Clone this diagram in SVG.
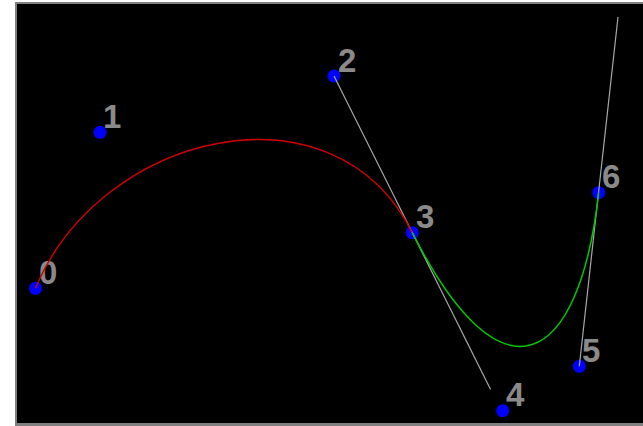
<svg xmlns="http://www.w3.org/2000/svg" width="643" height="426" viewBox="0 0 643 426">
  <style>
    .pt { fill: #0000ff; }
    .lbl { font-family: "Liberation Sans", Arial, sans-serif; font-weight: bold; font-size: 33px; fill: #8a8a8a; }
    .handle { stroke: #a8a8a8; stroke-width: 1.2; fill: none; }
    .seg1 { stroke: #d00000; stroke-width: 1.5; fill: none; }
    .seg2 { stroke: #00c800; stroke-width: 1.5; fill: none; }
  </style>
  <rect x="0" y="0" width="643" height="426" fill="#ffffff"/>
  <rect x="15" y="2" width="628" height="424" fill="#808080"/>
  <rect x="17" y="4" width="626" height="419" fill="#000000"/>

  <g id="p0"><circle class="pt" cx="35.5" cy="288.3" r="6.5"/><text class="lbl" x="39" y="283.5">0</text></g>
  <g id="p1"><circle class="pt" cx="100" cy="132.3" r="6.5"/><text class="lbl" x="103" y="127.5">1</text></g>
  <g id="p2"><circle class="pt" cx="334" cy="76" r="6.5"/><text class="lbl" x="338" y="71.5">2</text></g>
  <g id="p3"><circle class="pt" cx="412.3" cy="232.7" r="6.5"/><text class="lbl" x="416" y="228">3</text></g>
  <g id="p4"><circle class="pt" cx="502.7" cy="410.7" r="6.5"/><text class="lbl" x="506" y="405.5">4</text></g>
  <g id="p5"><circle class="pt" cx="579.3" cy="366.3" r="6.5"/><text class="lbl" x="582" y="362">5</text></g>
  <g id="p6"><circle class="pt" cx="598.7" cy="192.7" r="6.5"/><text class="lbl" x="602" y="188">6</text></g>

  <g id="connectors">
    <line class="handle" x1="334" y1="76" x2="490.6" y2="389.4"/>
    <line class="handle" x1="579.3" y1="366.3" x2="618" y2="17"/>
    <path class="seg1" d="M35.5,288.3 C100,132.3 334,76 412.3,232.7"/>
    <path class="seg2" d="M412.3,232.7 C502.7,410.7 579.3,366.3 598.7,192.7"/>
  </g>
</svg>
